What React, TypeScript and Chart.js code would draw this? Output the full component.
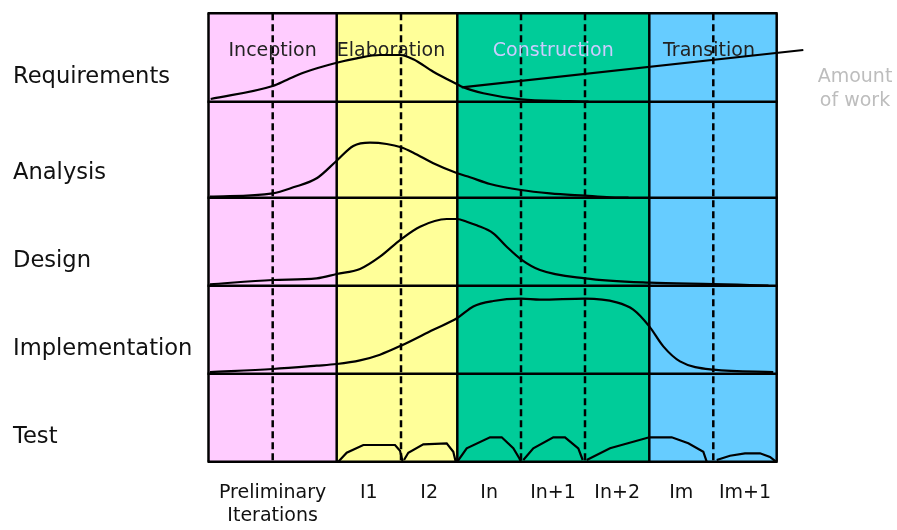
import React, { useEffect, useRef } from "react";
import { Chart, registerables } from "chart.js";

Chart.register(...registerables);

// ---- data (x in column units, y relative to each row's base line) ----
const rowNames = ["Requirements", "Analysis", "Design", "Implementation", "Test"];
const rowBases = [360, 264, 176, 88, 0];
const yMax = 448.4;
const xMax = 568.2;

const phaseNames = ["Inception", "Elaboration", "Construction", "Transition"];
const phaseEdges = [0, 128.2, 248.8, 440.8, 568.2];
const phaseColors = ["#FFCCFF", "#FFFF99", "#00CC99", "#66CCFF"];
const phaseTextColors = ["#222222", "#222222", "#CCCCFF", "#222222"];

const iterationEdges = [0, 128.2, 192.5, 248.8, 312.5, 376.5, 440.8, 504.8, 568.2];
const iterationDashed = [64.2, 192.5, 312.5, 376.5, 504.8];
const iterationLabels: (string | string[])[] = [
  ["Preliminary", "Iterations"], "I1", "I2", "In", "In+1", "In+2", "Im", "Im+1",
];

const requirementsWork = [
  [2.2, 2.7], [64.2, 15.7], [78.2, 21.7], [94.8, 29], [128.2, 39], [148.2, 43.4],
  [171.5, 46.7], [191.5, 46.7], [204.8, 42.4], [224.8, 30], [248.2, 17.7],
  [254.8, 14.4], [274.8, 8.4], [312.5, 2.4], [361.5, 0.6], [380, 0],
];
const analysisWork = [
  [1.5, 1], [64.2, 4.4], [84.8, 10.4], [108.2, 19.4], [128.2, 37], [144.8, 51.7],
  [161.5, 55], [178.2, 53.7], [192.5, 50.4], [204.8, 45], [224.8, 34.4],
  [248.8, 24.4], [261.5, 20.4], [281.5, 13.7], [312.5, 7.7], [341.5, 4.4],
  [376.5, 2], [401.5, 0.4], [420, 0],
];
const designWork = [
  [1.5, 1.4], [64.2, 5.7], [108.2, 7.4], [128.2, 11.7], [151.5, 16.7], [171.5, 29],
  [192.5, 46.4], [211.5, 59], [238.2, 66.7], [248.8, 66.7], [258.2, 64],
  [268.2, 60.4], [284.8, 52.4], [298.2, 39], [312.5, 26.4], [331.5, 15.7],
  [376.5, 7.4], [440.8, 3], [504.8, 1.7], [541.5, 0.7], [560, 0.2],
];
const implementationWork = [
  [1.5, 1.7], [64.2, 4.7], [108.2, 8], [128.2, 9.7], [151.5, 13.3], [171.5, 19],
  [192.5, 28], [224.8, 44], [248.8, 55.7], [264.8, 67.3], [284.8, 72.7],
  [312.5, 75], [331.5, 74], [376.5, 75], [408.2, 71.3], [424.8, 64],
  [440.8, 47.3], [454.8, 27.3], [471.5, 12.3], [504.8, 4], [564.8, 1.7],
];
const testI1 = [[129.8, 0], [138.2, 9], [154.8, 16.7], [186.5, 16.7], [191.5, 11], [194.2, 0]];
const testI2 = [[195.5, 1.7], [199.8, 9], [214.8, 17.4], [238.2, 18.4], [244.8, 10], [247.2, 0]];
const testIn = [[248.8, 0], [258.2, 13.4], [281.5, 24.4], [293.2, 24.4], [304.8, 13.4], [310.8, 3.4], [312.5, 0]];
const testIn1 = [[314.8, 1.7], [324.8, 13.4], [344.8, 24.4], [356.5, 24.4], [369.8, 13.4], [374.2, 1.7]];
const testIn2 = [[378.2, 1.7], [401.5, 13.4], [440.8, 24.4], [463.2, 24.4], [479.8, 18.4], [494.8, 10], [498.2, 0]];
const testIm1 = [[508.2, 1.7], [521.5, 6], [536.5, 8.4], [551.5, 8.4], [561.5, 4.7], [567.5, 0]];
const amountPointer = [[253.2, 14.4], [594.8, 51.7]];
const amountLabel = ["Amount", "of work"];

const FONT = "'DejaVu Sans', Verdana, sans-serif";

function toPoints(arr: number[][], base: number) {
  return arr.map(([x, y]) => ({ x, y: y + base }));
}

const backgroundPlugin = {
  id: "phaseBackground",
  beforeDatasetsDraw(chart: any) {
    const { ctx, scales } = chart;
    const xs = scales.x, ys = scales.y;
    const top = ys.getPixelForValue(yMax);
    const bottom = ys.getPixelForValue(0);
    ctx.save();
    for (let i = 0; i < phaseColors.length; i++) {
      const l = xs.getPixelForValue(phaseEdges[i]);
      const r = xs.getPixelForValue(phaseEdges[i + 1]);
      ctx.fillStyle = phaseColors[i];
      ctx.fillRect(l, top, r - l, bottom - top);
    }
    ctx.strokeStyle = "#000";
    ctx.lineWidth = 2.5;
    ctx.setLineDash([7, 4]);
    iterationDashed.forEach((v) => {
      const x = xs.getPixelForValue(v);
      ctx.beginPath();
      ctx.moveTo(x, top);
      ctx.lineTo(x, bottom);
      ctx.stroke();
    });
    ctx.setLineDash([]);
    phaseEdges.forEach((v) => {
      const x = xs.getPixelForValue(v);
      ctx.beginPath();
      ctx.moveTo(x, top);
      ctx.lineTo(x, bottom);
      ctx.stroke();
    });
    [...rowBases, yMax].forEach((v) => {
      const y = ys.getPixelForValue(v);
      ctx.beginPath();
      ctx.moveTo(xs.getPixelForValue(0) - 1, y);
      ctx.lineTo(xs.getPixelForValue(xMax) + 1, y);
      ctx.stroke();
    });
    ctx.font = `19px ${FONT}`;
    ctx.textAlign = "center";
    ctx.textBaseline = "alphabetic";
    phaseNames.forEach((name, i) => {
      const c = xs.getPixelForValue((phaseEdges[i] + phaseEdges[i + 1]) / 2);
      ctx.fillStyle = phaseTextColors[i];
      ctx.fillText(name, c - (i === 1 ? 6 : i === 3 ? 4 : 0), top + 42.7);
    });
    ctx.restore();
  },
  afterDraw(chart: any) {
    const { ctx, scales } = chart;
    const ys = scales.y;
    ctx.save();
    ctx.fillStyle = "#111";
    ctx.font = `22.6px ${FONT}`;
    ctx.textAlign = "left";
    ctx.textBaseline = "alphabetic";
    rowNames.forEach((name, i) => {
      ctx.fillText(name, 13, ys.getPixelForValue(rowBases[i]) - 19);
    });
    ctx.fillStyle = "#BDBDBD";
    ctx.font = `19px ${FONT}`;
    ctx.textAlign = "center";
    amountLabel.forEach((t, i) => {
      ctx.fillText(t, 855, 82 + i * 24);
    });
    ctx.restore();
  },
};

export default function App() {
  const ref = useRef<HTMLCanvasElement | null>(null);
  useEffect(() => {
    document.body.style.margin = "0";
    if (!ref.current) return;
    const curve = (data: number[][], base: number, smooth: boolean) => ({
      data: toPoints(data, base),
      borderColor: "#000",
      borderWidth: 2.2,
      pointRadius: 0,
      fill: false,
      cubicInterpolationMode: smooth ? "monotone" : "default",
      tension: smooth ? 0.4 : 0,
    });
    const chart = new Chart(ref.current, {
      type: "line",
      data: {
        datasets: [
          curve(requirementsWork, rowBases[0], true),
          curve(analysisWork, rowBases[1], true),
          curve(designWork, rowBases[2], true),
          curve(implementationWork, rowBases[3], true),
          curve(testI1, rowBases[4], false),
          curve(testI2, rowBases[4], false),
          curve(testIn, rowBases[4], false),
          curve(testIn1, rowBases[4], false),
          curve(testIn2, rowBases[4], false),
          curve(testIm1, rowBases[4], false),
          { ...curve(amountPointer, rowBases[0], false), clip: false },
        ] as any,
      },
      options: {
        animation: false,
        responsive: false,
        maintainAspectRatio: false,
        layout: { padding: { top: 13.3, left: 208.5, right: 120.3, bottom: 0 } },
        plugins: { legend: { display: false }, tooltip: { enabled: false } },
        events: [],
        scales: {
          x: {
            type: "linear",
            min: 0,
            max: xMax,
            grid: { display: false, drawTicks: false },
            border: { display: false },
            afterBuildTicks: (scale: any) => {
              scale.ticks = iterationLabels.map((_, i) => ({
                value: (iterationEdges[i] + iterationEdges[i + 1]) / 2,
              }));
            },
            afterFit: (scale: any) => {
              scale.height = 68.3;
            },
            ticks: {
              autoSkip: false,
              maxRotation: 0,
              padding: 20,
              color: "#111",
              font: { family: FONT, size: 19 },
              callback: (_v: any, i: number) => iterationLabels[i],
            },
          },
          y: { type: "linear", display: false, min: 0, max: yMax },
        },
      } as any,
      plugins: [backgroundPlugin],
    });
    return () => chart.destroy();
  }, []);
  return (
    <div style={{ width: 897, height: 530 }}>
      <canvas ref={ref} width={897} height={530} style={{ width: 897, height: 530 }} />
    </div>
  );
}
